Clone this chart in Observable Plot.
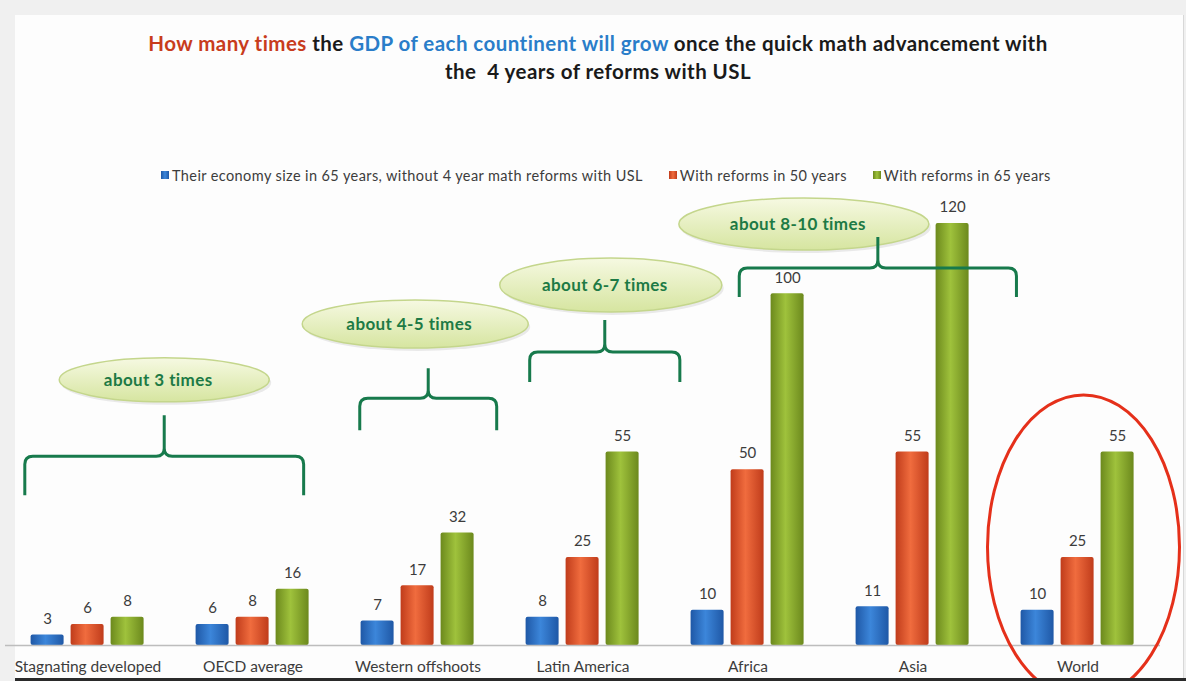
<!DOCTYPE html>
<html>
<head>
<meta charset="utf-8">
<script src="https://cdn.jsdelivr.net/npm/d3@7"></script>
<script src="https://cdn.jsdelivr.net/npm/@observablehq/plot@0.6"></script>
<style>
  html, body { margin: 0; padding: 0; }
  body { width: 1186px; height: 681px; position: relative; overflow: hidden; background: #f0f0f0; font-family: Lato, "Open Sans", sans-serif; }
  #frame { position: absolute; left: 15px; top: 15px; width: 1168px; height: 664px; background: #fdfdfd; border-right: 1px solid #d8d8d8; }
  #bottomline { position: absolute; left: 15px; top: 678px; width: 1171px; height: 3px; background: #2a2a2a; }
  #title { position: absolute; left: 10px; top: 29px; width: 1176px; text-align: center; font-weight: 700; font-size: 20.5px; letter-spacing: 0.45px; line-height: 28px; color: #1a1a1a; }
  #title .r { color: #c83c1c; }
  #title .b { color: #2a7dc9; }
  #legend { position: absolute; left: 161px; top: 166px; height: 18px; display: flex; align-items: center; gap: 26px; font-size: 14.5px; letter-spacing: 0.4px; color: #3c3c3c; }
  #legend .item { display: flex; align-items: center; }
  #legend .sw { width: 8px; height: 8px; margin-right: 3px; }
  #chart { position: absolute; left: 0; top: 190px; }
</style>
</head>
<body>
<div id="frame"></div>
<div id="title"><span class="r">How many times</span> the <span class="b">GDP of each countinent will grow</span> once the quick math advancement with<br>the &nbsp;4 years of reforms with USL</div>
<div id="legend"></div>
<div id="chart"></div>
<div id="bottomline"></div>
<script>
// ---- data ----
const categories = ["Stagnating developed", "OECD average", "Western offshoots", "Latin America", "Africa", "Asia", "World"];
const seriesNames = [
  "Their economy size in 65 years, without 4 year math reforms with USL",
  "With reforms in 50 years",
  "With reforms in 65 years"
];
const withoutReforms65 = [3, 6, 7, 8, 10, 11, 10];
const withReforms50 = [6, 8, 17, 25, 50, 55, 25];
const withReforms65 = [8, 16, 32, 55, 100, 120, 55];

const annLabels = ["about 3 times", "about 4-5 times", "about 6-7 times", "about 8-10 times"];
const annFrom = ["Stagnating developed", "Western offshoots", "Latin America", "Africa"];
const annTo = ["OECD average", "Western offshoots", "Latin America", "Asia"];
const highlighted = "World";

// ---- table ----
const seriesValues = [withoutReforms65, withReforms50, withReforms65];
const table = [];
categories.forEach((c, i) => seriesNames.forEach((s, j) => table.push({category: c, series: s, value: seriesValues[j][i]})));

// ---- styles ----
const grad = [
  {id: "gBlue", edge: "#1f58a6", mid: "#3c86da"},
  {id: "gRed", edge: "#c03c1b", mid: "#f06c3e"},
  {id: "gGreen", edge: "#6c891d", mid: "#9fc23c"}
];

// legend
const legend = d3.select("#legend");
seriesNames.forEach((s, j) => {
  const it = legend.append("div").attr("class", "item");
  it.append("div").attr("class", "sw").style("background", `linear-gradient(90deg, ${grad[j].edge}, ${grad[j].mid}, ${grad[j].edge})`);
  it.append("span").text(s);
});

const plot = Plot.plot({
  width: 1186,
  height: 491,
  marginTop: 33,
  marginBottom: 36,
  marginLeft: 4.4,
  marginRight: 25,
  style: {fontFamily: "Lato, 'Open Sans', sans-serif", background: "transparent", overflow: "visible"},
  fx: {domain: categories, padding: 0, label: null},
  x: {domain: seriesNames, paddingInner: 0.17, paddingOuter: 0.6, axis: null},
  y: {domain: [0, 120], axis: null},
  color: {domain: seriesNames, range: grad.map(g => `url(#${g.id})`)},
  marks: [
    Plot.axisFx({anchor: "bottom", tickSize: 0, tickPadding: 15, fontSize: 15.5, fill: "#3c3c3c", label: null}),
    Plot.barY(table, {fx: "category", x: "series", y: "value", fill: "series", rx: 2}),
    Plot.ruleY([0], {stroke: "#bdbdbd", strokeWidth: 1.5}),
    Plot.text(table, {fx: "category", x: "series", y: "value", text: d => String(d.value), dy: -16, fontSize: 15, fill: "#3c3c3c"})
  ]
});
document.getElementById("chart").appendChild(plot);

// gradients
const svg = d3.select(plot);
const defs = svg.insert("defs", ":first-child");
grad.forEach(g => {
  const lg = defs.append("linearGradient").attr("id", g.id).attr("x1", "0").attr("x2", "1").attr("y1", "0").attr("y2", "0");
  lg.append("stop").attr("offset", "0%").attr("stop-color", g.edge);
  lg.append("stop").attr("offset", "45%").attr("stop-color", g.mid);
  lg.append("stop").attr("offset", "100%").attr("stop-color", g.edge);
});
const eg = defs.append("linearGradient").attr("id", "gEll").attr("x1", "0").attr("x2", "0").attr("y1", "0").attr("y2", "1");
eg.append("stop").attr("offset", "0%").attr("stop-color", "#f6f9e2");
eg.append("stop").attr("offset", "100%").attr("stop-color", "#d6e5a0");

// annotations (braces + ellipse labels) placed through the plot's scales
const fx = plot.scale("fx");
const y = plot.scale("y");
const bw = fx.bandwidth;
const fxs = c => fx.apply(c);

// layout of hand-drawn annotations, relative to category bands (fractions) and y-values
const braceLayout = [
  {f1: 0.12, f2: 0.81, level: 53.7, down: 39, up: 41, ex: 0, ey: 75.4, rx: 105, ry: 22},
  {f1: 0.15, f2: 0.98, level: 70.2, down: 32, up: 30, ex: -13, ey: 91.3, rx: 113, ry: 24},
  {f1: 0.18, f2: 1.09, level: 83.3, down: 30, up: 32, ex: 6, ey: 102.4, rx: 111, ry: 27},
  {f1: 0.45, f2: 1.13, level: 107.2, down: 29, up: 31, ex: -74, ey: 119.7, rx: 125, ry: 26}
];
const gAnn = svg.append("g");
const gEl = gAnn.append("g");
const gBr = gAnn.append("g");
annLabels.forEach((label, i) => {
  const L = braceLayout[i];
  const x1 = fxs(annFrom[i]) + L.f1 * bw;
  const x2 = fxs(annTo[i]) + L.f2 * bw;
  const xm = (x1 + x2) / 2;
  const yh = y.apply(L.level);
  const r = 8;
  const p = d3.path();
  p.moveTo(x1, yh + L.down);
  p.lineTo(x1, yh + r);
  p.quadraticCurveTo(x1, yh, x1 + r, yh);
  p.lineTo(xm - r, yh);
  p.quadraticCurveTo(xm, yh, xm, yh - r);
  p.lineTo(xm, yh - L.up);
  p.moveTo(xm, yh - r);
  p.quadraticCurveTo(xm, yh, xm + r, yh);
  p.lineTo(x2 - r, yh);
  p.quadraticCurveTo(x2, yh, x2, yh + r);
  p.lineTo(x2, yh + L.down);
  gBr.append("path").attr("d", p.toString()).attr("fill", "none").attr("stroke", "#177a4c").attr("stroke-width", 3).attr("stroke-linejoin", "round");
  const ex = xm + L.ex, ey = y.apply(L.ey);
  gEl.append("ellipse").attr("cx", ex + 2).attr("cy", ey + 3).attr("rx", L.rx).attr("ry", L.ry).attr("fill", "#000").attr("opacity", 0.08);
  gEl.append("ellipse").attr("cx", ex).attr("cy", ey).attr("rx", L.rx).attr("ry", L.ry).attr("fill", "url(#gEll)").attr("stroke", "#c4d68c").attr("stroke-width", 1.5);
  gEl.append("text").attr("x", ex - 6).attr("y", ey).attr("dy", "0.35em").attr("text-anchor", "middle")
    .attr("font-size", 17).attr("letter-spacing", "0.4px").attr("font-weight", 700).attr("fill", "#1d7a45").attr("font-family", "Lato, sans-serif").text(label);
});
// red circle around highlighted category
gAnn.append("ellipse")
  .attr("cx", fxs(highlighted) + bw / 2 + 6)
  .attr("cy", y.apply(27.9))
  .attr("rx", 96).attr("ry", 152)
  .attr("fill", "none").attr("stroke", "#e5301a").attr("stroke-width", 3);
</script>
</body>
</html>
